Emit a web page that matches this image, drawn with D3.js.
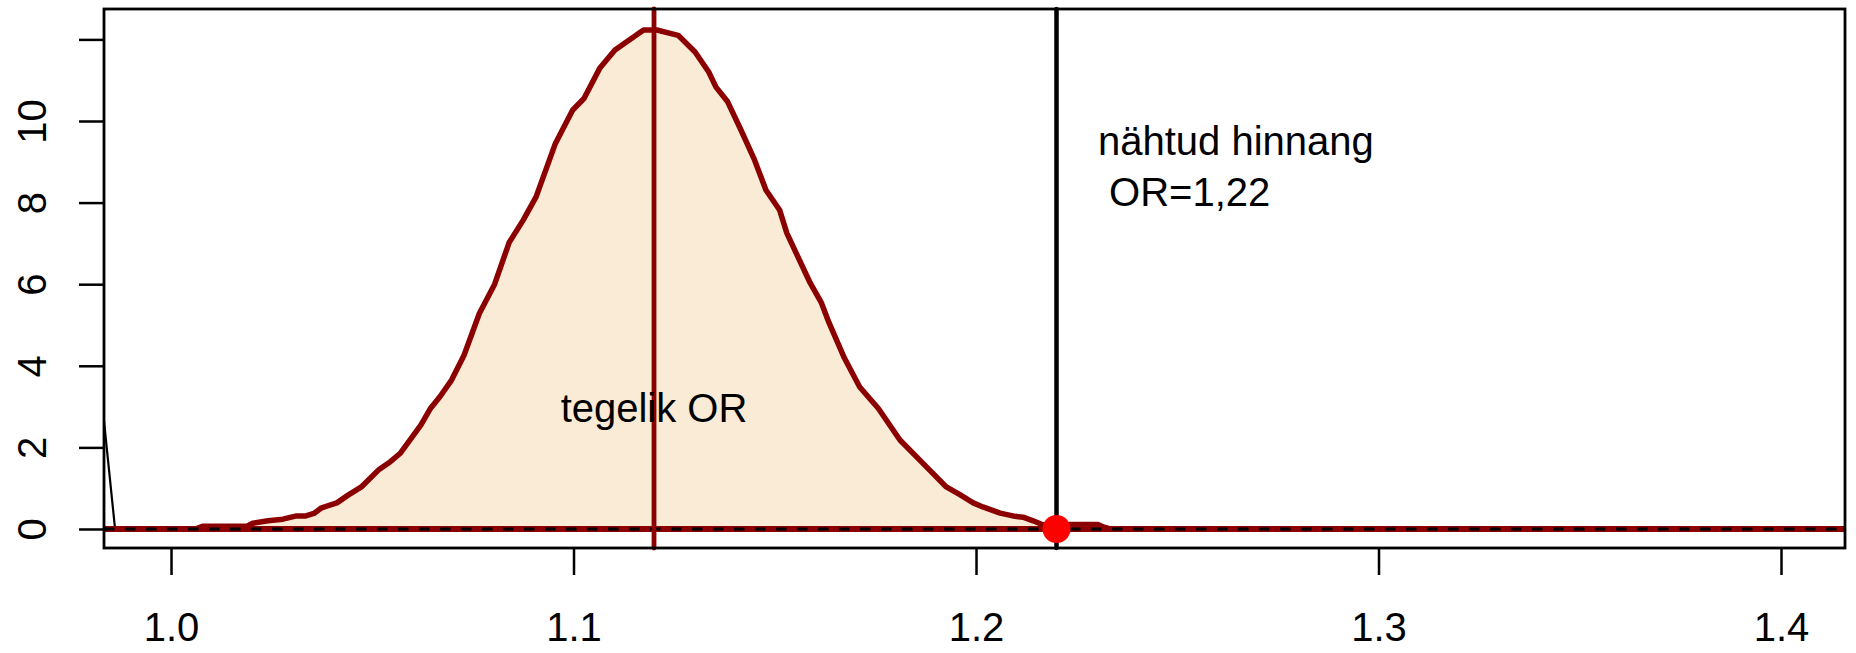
<!DOCTYPE html>
<html>
<head>
<meta charset="utf-8">
<script src="https://cdn.jsdelivr.net/npm/d3@7/dist/d3.min.js"></script>
<style>
  html, body { margin: 0; padding: 0; background: #ffffff; }
  svg { display: block; }
  text { font-family: "Liberation Sans", Arial, sans-serif; }
</style>
</head>
<body>
<svg id="chart" width="1856" height="653"></svg>
<script>
// ---- data ----
const densX = [0.9800, 1.0060, 1.0080, 1.0189, 1.0203, 1.0241, 1.0278, 1.0312, 1.0335, 1.0355,
  1.0374, 1.0412, 1.0440, 1.0474, 1.0517, 1.0545, 1.0569, 1.0621, 1.0645, 1.0668,
  1.0697, 1.0728, 1.0766, 1.0804, 1.0840, 1.0875, 1.0907, 1.0955, 1.0998, 1.1026,
  1.1065, 1.1103, 1.1174, 1.1207, 1.1260, 1.1302, 1.1336, 1.1354, 1.1383, 1.1416,
  1.1450, 1.1478, 1.1512, 1.1530, 1.1588, 1.1616, 1.1635, 1.1673, 1.1711, 1.1739,
  1.1757, 1.1811, 1.1872, 1.1925, 1.1960, 1.1993, 1.2017, 1.2060, 1.2097, 1.2117,
  1.2142, 1.2164, 1.2201, 1.2234, 1.2303, 1.2316, 1.2333, 1.4200];
const densY = [0.00, 0.00, 0.07, 0.07, 0.14, 0.20, 0.24, 0.32, 0.32, 0.38,
  0.52, 0.64, 0.83, 1.04, 1.46, 1.65, 1.85, 2.55, 2.96, 3.24,
  3.65, 4.26, 5.28, 6.00, 7.02, 7.57, 8.14, 9.45, 10.27, 10.55,
  11.29, 11.74, 12.23, 12.23, 12.10, 11.69, 11.20, 10.83, 10.47, 9.78,
  9.04, 8.31, 7.82, 7.25, 6.03, 5.54, 5.05, 4.19, 3.48, 3.16,
  2.96, 2.18, 1.57, 1.04, 0.84, 0.64, 0.54, 0.39, 0.31, 0.29,
  0.20, 0.11, 0.05, 0.11, 0.11, 0.05, 0.00, 0.00];
// tail of a second (black) density entering from the left
const blackX = [0.9780, 0.9861, 1.4200];
const blackY = [7.80, 0.00, 0.00];
const trueOR = 1.12;
const observedOR = 1.22;
const xTicks = [1.0, 1.1, 1.2, 1.3, 1.4];
const xTickLabels = ["1.0", "1.1", "1.2", "1.3", "1.4"];
const yTicks = [0, 2, 4, 6, 8, 10, 12];
const yTickLabels = ["0", "2", "4", "6", "8", "10", ""];
const labelTrue = "tegelik OR";
const labelTrueAt = [1.12, 2.97];
const labelObs = ["nähtud hinnang", " OR=1,22"];
const labelObsAt = [1.2303, 9.17];

// ---- layout ----
const L = 104, R = 1845, T = 9, B = 548;
const svg = d3.select("#chart");
const x = d3.scaleLinear().domain([0.98335, 1.41590]).range([L, R]);
const y = d3.scaleLinear().domain([-0.466, 12.745]).range([B, T]);

svg.append("defs").append("clipPath").attr("id", "plotclip")
  .append("rect").attr("x", L).attr("y", T).attr("width", R - L).attr("height", B - T);

const plot = svg.append("g").attr("clip-path", "url(#plotclip)");
const pts = densX.map((d, i) => [d, densY[i]]);

plot.append("path")
  .datum(pts)
  .attr("d", d3.area().x(d => x(d[0])).y0(y(0)).y1(d => y(d[1])))
  .attr("fill", "#FAEBD7");

plot.append("path")
  .datum(blackX.map((d, i) => [d, blackY[i]]))
  .attr("d", d3.line().x(d => x(d[0])).y(d => y(d[1])))
  .attr("fill", "none").attr("stroke", "#000").attr("stroke-width", 2.2);

plot.append("path")
  .datum(pts)
  .attr("d", d3.line().x(d => x(d[0])).y(d => y(d[1])))
  .attr("fill", "none").attr("stroke", "#8B0000").attr("stroke-width", 5.5)
  .attr("stroke-linejoin", "round");

plot.append("line")
  .attr("x1", L).attr("x2", R).attr("y1", y(0)).attr("y2", y(0))
  .attr("stroke", "#8B0000").attr("stroke-width", 6);

plot.append("line")
  .attr("x1", L).attr("x2", R).attr("y1", y(0)).attr("y2", y(0))
  .attr("stroke", "#000").attr("stroke-width", 3)
  .attr("stroke-dasharray", "10.5,10.5");

// vertical lines
svg.append("line")
  .attr("x1", x(trueOR)).attr("x2", x(trueOR)).attr("y1", T).attr("y2", B)
  .attr("stroke", "#8B0000").attr("stroke-width", 4.8).attr("stroke-linecap", "round");
svg.append("line")
  .attr("x1", x(observedOR)).attr("x2", x(observedOR)).attr("y1", T).attr("y2", B)
  .attr("stroke", "#000").attr("stroke-width", 4.5).attr("stroke-linecap", "round");

// text labels
svg.append("text")
  .attr("x", x(labelTrueAt[0])).attr("y", y(labelTrueAt[1]))
  .attr("text-anchor", "middle").attr("dy", "0.35em")
  .attr("font-size", 40).attr("fill", "#000").text(labelTrue);

const obs = svg.append("text")
  .attr("x", x(labelObsAt[0])).attr("y", y(labelObsAt[1]))
  .attr("font-size", 40).attr("fill", "#000").attr("xml:space", "preserve")
  .style("white-space", "pre");
labelObs.forEach((s, i) => {
  obs.append("tspan").attr("x", x(labelObsAt[0])).attr("dy", i === 0 ? 0 : 51).text(s);
});

// observed point
svg.append("circle")
  .attr("cx", x(observedOR)).attr("cy", y(0)).attr("r", 14)
  .attr("fill", "#FF0000");

// box
svg.append("rect")
  .attr("x", L).attr("y", T).attr("width", R - L).attr("height", B - T)
  .attr("fill", "none").attr("stroke", "#000").attr("stroke-width", 2.8);

// axes
const xAxis = d3.axisBottom(x).tickValues(xTicks)
  .tickFormat((d, i) => xTickLabels[i]).tickSize(27).tickPadding(38).tickSizeOuter(0);
const gx = svg.append("g").attr("transform", `translate(0,${B})`).call(xAxis);
gx.select(".domain").remove();
gx.selectAll(".tick line").attr("stroke", "#000").attr("stroke-width", 2.5);
gx.selectAll(".tick text").attr("font-size", 40).attr("fill", "#000")
  .attr("font-family", "Liberation Sans, Arial, sans-serif");

const yAxis = d3.axisLeft(y).tickValues(yTicks)
  .tickFormat((d, i) => yTickLabels[i]).tickSize(25).tickSizeOuter(0);
const gy = svg.append("g").attr("transform", `translate(${L},0)`).call(yAxis);
gy.select(".domain").remove();
gy.selectAll(".tick line").attr("stroke", "#000").attr("stroke-width", 2.5);
gy.selectAll(".tick text")
  .attr("transform", "rotate(-90)")
  .attr("x", 0).attr("y", -(L - 46)).attr("dy", null)
  .attr("text-anchor", "middle")
  .attr("font-size", 40).attr("fill", "#000")
  .attr("font-family", "Liberation Sans, Arial, sans-serif");
</script>
</body>
</html>
